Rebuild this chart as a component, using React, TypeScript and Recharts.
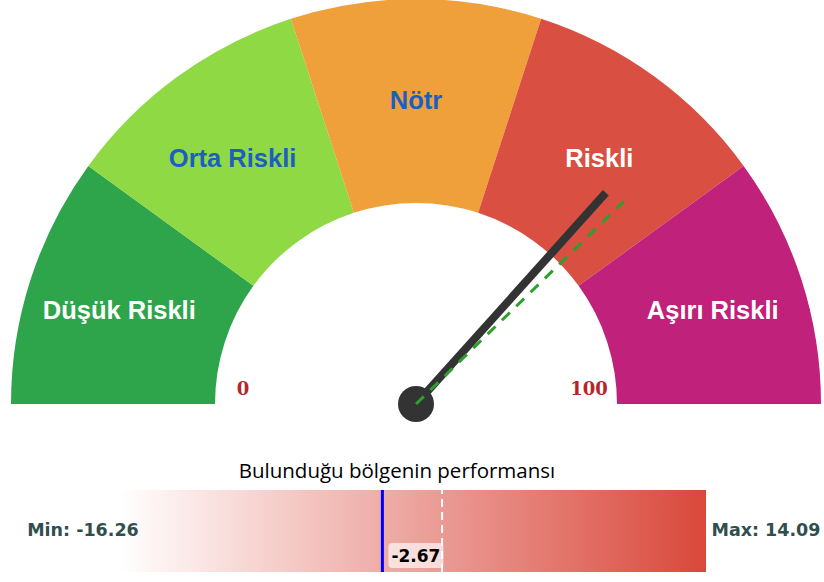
import { PieChart, Pie, Cell, BarChart, Bar, XAxis, YAxis, ReferenceLine } from 'recharts';

const zones = ['Düşük Riskli', 'Orta Riskli', 'Nötr', 'Riskli', 'Aşırı Riskli'];
const zoneSizes = [20, 20, 20, 20, 20];
const zoneColors = ['#2ea44b', '#8fd944', '#f0a03a', '#d94f41', '#c0217a'];
const zoneTextColors = ['#ffffff', '#1c5fc4', '#1c5fc4', '#ffffff', '#ffffff'];
const gaugeTicks = [0, 100];
const needleValue = 73.3;
const targetValue = 75.4;

const perfTitle = 'Bulunduğu bölgenin performansı';
const perfMin = -16.26;
const perfMax = 14.09;
const perfCurrent = -2.67;
const perfMarker = 0.42;

const W = 824;
const CX = 416;
const CY = 404;
const R_OUT = 405;
const R_IN = 201;

const gaugeData = zones.map((name, i) => ({ name, value: zoneSizes[i] }));
const perfData = [{ name: 'perf', range: [perfMin, perfMax] }];

const RAD = Math.PI / 180;
const toAngle = (v: number) => 180 - (v / 100) * 180;
const polar = (v: number, r: number) => {
  const a = toAngle(v) * RAD;
  return { x: CX + r * Math.cos(a), y: CY - r * Math.sin(a) };
};

function renderZoneLabel(props: any) {
  const { cx, cy, midAngle, index } = props;
  // labels sit a bit wider than the ring middle
  const x = cx + 312 * Math.cos(-midAngle * RAD);
  const y = cy + 304 * Math.sin(-midAngle * RAD);
  return (
    <text
      x={x}
      y={y}
      fill={zoneTextColors[index]}
      textAnchor="middle"
      dominantBaseline="central"
      fontFamily="Liberation Sans, Arial, sans-serif"
      fontWeight="bold"
      fontSize={25.5}
    >
      {zones[index]}
    </text>
  );
}

function CurrentLabel(props: any) {
  const { viewBox } = props;
  const x = viewBox.x + 6;
  const y = viewBox.y + 53;
  return (
    <g>
      <rect x={x} y={y} width={55} height={25} rx={4} fill="rgba(255,255,255,0.65)" />
      <text
        x={x + 27.5}
        y={y + 13}
        textAnchor="middle"
        dominantBaseline="central"
        fontFamily="DejaVu Sans, sans-serif"
        fontWeight="bold"
        fontSize={17}
        fill="#000"
      >
        {perfCurrent.toFixed(2)}
      </text>
    </g>
  );
}

export default function App() {
  const tip = polar(needleValue, 284);
  const target = polar(targetValue, 290);
  return (
    <div style={{ position: 'absolute', left: 0, top: 0, width: W, height: 582, background: '#fff' }}>
      <div style={{ position: 'absolute', left: 0, top: 0 }}>
        <PieChart width={W} height={430} margin={{ top: 0, right: 0, bottom: 0, left: 0 }}>
          <Pie
            data={gaugeData}
            dataKey="value"
            cx={CX}
            cy={CY}
            startAngle={180}
            endAngle={0}
            innerRadius={R_IN}
            outerRadius={R_OUT}
            stroke="none"
            label={renderZoneLabel}
            labelLine={false}
            isAnimationActive={false}
          >
            {gaugeData.map((d, i) => (
              <Cell key={d.name} fill={zoneColors[i]} />
            ))}
          </Pie>
        </PieChart>
      </div>
      {/* needle layer on top of the sectors */}
      <div style={{ position: 'absolute', left: 0, top: 0 }}>
        <PieChart width={W} height={430} margin={{ top: 0, right: 0, bottom: 0, left: 0 }}>
          {gaugeTicks.map((t) => {
            const p = polar(t, 173);
            return (
              <text
                key={t}
                x={p.x}
                y={CY - 16}
                textAnchor="middle"
                dominantBaseline="central"
                fontFamily="DejaVu Serif, serif"
                fontWeight="bold"
                fontSize={18}
                fill="#b5262b"
              >
                {t}
              </text>
            );
          })}
          <line x1={CX} y1={CY} x2={tip.x} y2={tip.y} stroke="#333" strokeWidth={8} />
          <circle cx={CX} cy={CY} r={18} fill="#333" />
          <line
            x1={CX}
            y1={CY}
            x2={target.x}
            y2={target.y}
            stroke="#2ca02c"
            strokeWidth={3}
            strokeDasharray="11 9"
          />
        </PieChart>
      </div>
      <div style={{ position: 'absolute', left: 0, top: 455 }}>
        <BarChart
          width={W}
          height={117}
          data={perfData}
          layout="vertical"
          barCategoryGap={0}
          margin={{ top: 35, right: 118, bottom: 0, left: 120 }}
        >
          <defs>
            <linearGradient id="perfGrad" x1="0" y1="0" x2="1" y2="0">
              <stop offset="0%" stopColor="#d9483b" stopOpacity={0} />
              <stop offset="100%" stopColor="#d9483b" stopOpacity={1} />
            </linearGradient>
          </defs>
          <XAxis type="number" domain={[perfMin, perfMax]} hide />
          <YAxis type="category" dataKey="name" hide />
          <Bar dataKey="range" fill="url(#perfGrad)" isAnimationActive={false} />
          <ReferenceLine x={perfMarker} stroke="#fff" strokeWidth={2} strokeDasharray="8 5" />
          <ReferenceLine x={perfCurrent} stroke="#0000ff" strokeWidth={3} label={<CurrentLabel />} />
          <text
            x={397}
            y={15}
            textAnchor="middle"
            dominantBaseline="central"
            fontFamily="Open Sans, sans-serif"
            fontSize={20.5}
            fill="#000"
          >
            {perfTitle}
          </text>
          <text
            x={83}
            y={75}
            textAnchor="middle"
            dominantBaseline="central"
            fontFamily="DejaVu Sans, sans-serif"
            fontWeight="bold"
            fontSize={17.5}
            fill="#2f4f4f"
          >
            {`Min: ${perfMin}`}
          </text>
          <text
            x={766}
            y={75}
            textAnchor="middle"
            dominantBaseline="central"
            fontFamily="DejaVu Sans, sans-serif"
            fontWeight="bold"
            fontSize={17.5}
            fill="#2f4f4f"
          >
            {`Max: ${perfMax}`}
          </text>
        </BarChart>
      </div>
    </div>
  );
}
